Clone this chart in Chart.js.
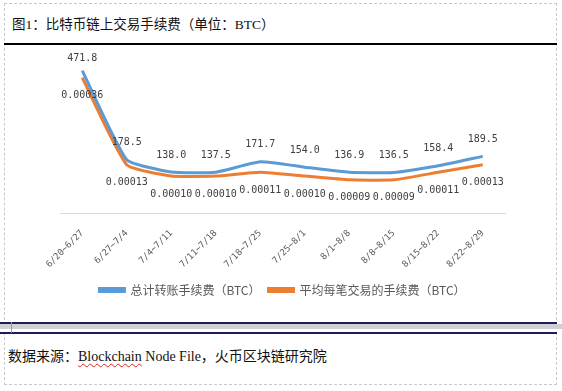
<!DOCTYPE html>
<html lang="zh">
<head>
  <meta charset="UTF-8" />
  <title>比特币链上交易手续费</title>
  <script src="https://cdn.jsdelivr.net/npm/chart.js"></script>
  <style>
    body {
      margin: 0;
      width: 562px;
      height: 391px;
      background: #fff;
      position: relative;
      overflow: hidden;
      font-family: 'Liberation Serif', 'Noto Sans CJK SC', serif;
      color: #111;
    }
    .frame {
      position: absolute;
      left: 4px; top: 3px;
      width: 551px; height: 380px;
      border: 1px dashed #c8c8c8;
    }
    .title {
      position: absolute;
      left: 12px; top: 13px;
      font-size: 13.5px;
    }
    .rule {
      position: absolute;
      left: 4px; top: 43px;
      width: 553px; height: 2px;
      background: #000;
    }
    .band {
      position: absolute;
      left: 0; top: 322px;
      width: 562px; height: 11px;
      background: #fff;
    }
    .band .navy1, .band .navy2 {
      position: absolute; left: 0; width: 557px; height: 2px; background: #1c1c5a;
    }
    .band .navy1 { top: 0; }
    .band .navy2 { top: 10px; }
    .band .grey {
      position: absolute; left: 0; top: 2px; width: 562px; height: 5px; background: #cfd0d6;
    }
    .band .tick {
      position: absolute; left: 11px; top: 0; width: 1px; height: 11px; background: #999;
    }
    .source {
      position: absolute;
      left: 8px; top: 345px;
      font-size: 14px;
    }
    .source u {
      text-decoration: underline wavy #d22;
      text-underline-offset: 2px;
      text-decoration-thickness: 1px;
    }
    .chart-box {
      position: absolute;
      left: 4px; top: 46px;
      width: 552px; height: 274px;
    }
  </style>
</head>
<body>
  <div class="frame"></div>
  <div class="title">图1：比特币链上交易手续费（单位：BTC）</div>
  <div class="rule"></div>

  <div class="chart-box"><canvas id="feeChart"></canvas></div>

  <div class="band">
    <div class="navy1"></div>
    <div class="grey"></div>
    <div class="navy2"></div>
    <div class="tick"></div>
  </div>
  <div class="source">数据来源：<u>Blockchain</u> Node File，火币区块链研究院</div>

  <script>
    const weeks = ['6/20~6/27', '6/27~7/4', '7/4~7/11', '7/11~7/18', '7/18~7/25',
                   '7/25~8/1', '8/1~8/8', '8/8~8/15', '8/15~8/22', '8/22~8/29'];
    const totalFee = [471.8, 178.5, 138.0, 137.5, 171.7, 154.0, 136.9, 136.5, 158.4, 189.5];
    const avgFee = [0.00036, 0.00013, 0.00010, 0.00010, 0.00011, 0.00010, 0.00009, 0.00009, 0.00011, 0.00013];

    const BLUE = '#5B9BD5';
    const ORANGE = '#ED7D31';

    // draws the value next to each point, above for total fee, below for per-tx fee
    const valueLabels = {
      id: 'valueLabels',
      afterDatasetsDraw(chart) {
        const ctx = chart.ctx;
        ctx.save();
        ctx.font = '10px "DejaVu Sans Mono", monospace';
        ctx.fillStyle = '#404040';
        ctx.textAlign = 'center';
        ctx.textBaseline = 'middle';
        chart.data.datasets.forEach((ds, i) => {
          const meta = chart.getDatasetMeta(i);
          meta.data.forEach((pt, j) => {
            const v = ds.data[j];
            if (i === 0) ctx.fillText(v.toFixed(1), pt.x, pt.y - (j === 0 ? 12 : 17));
            else ctx.fillText(v.toFixed(5), pt.x, pt.y + 18);
          });
        });
        ctx.restore();
      }
    };

    new Chart(document.getElementById('feeChart'), {
      type: 'line',
      data: {
        labels: weeks,
        datasets: [
          {
            label: '总计转账手续费（BTC）',
            data: totalFee,
            borderColor: BLUE,
            backgroundColor: BLUE,
            borderWidth: 3,
            pointRadius: 0,
            tension: 0.15,
            yAxisID: 'y'
          },
          {
            label: '平均每笔交易的手续费（BTC）',
            data: avgFee,
            borderColor: ORANGE,
            backgroundColor: ORANGE,
            borderWidth: 3,
            pointRadius: 0,
            tension: 0.15,
            yAxisID: 'y1'
          }
        ]
      },
      options: {
        responsive: true,
        maintainAspectRatio: false,
        animation: false,
        layout: { padding: { left: 56, right: 51, top: 4, bottom: 14 } },
        plugins: {
          tooltip: { enabled: false },
          legend: {
            position: 'bottom',
            labels: {
              boxWidth: 25,
              boxHeight: 3,
              padding: 8,
              color: '#595959',
              font: { family: "'Noto Sans CJK SC', sans-serif", size: 12 }
            }
          }
        },
        scales: {
          x: {
            offset: true,
            grid: { display: false },
            border: { display: true, color: '#d9d9d9', width: 1 },
            ticks: {
              minRotation: 45,
              maxRotation: 45,
              color: '#595959',
              padding: 6,
              font: { family: "'DejaVu Sans Mono', monospace", size: 9 }
            }
          },
          y: { display: false, min: 0, max: 540 },
          y1: { display: false, min: 0, max: 0.000433 }
        }
      },
      plugins: [valueLabels]
    });
  </script>
</body>
</html>
